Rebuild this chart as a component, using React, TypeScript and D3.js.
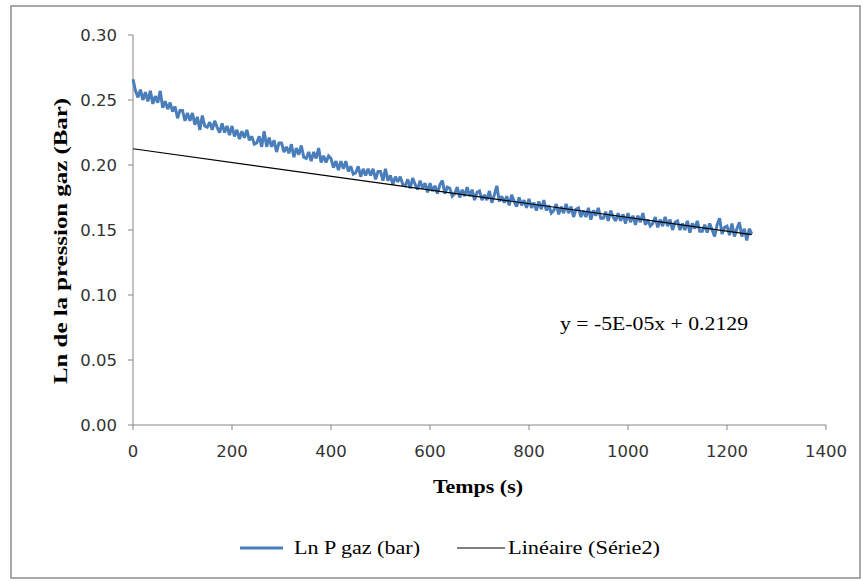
import React from "react";
import * as d3 from "d3";

const timeStep = 5; // seconds between samples
const lnP: number[] = [
  0.266, 0.257, 0.252, 0.258, 0.250, 0.256, 0.249, 0.257, 0.247, 0.253,
  0.248, 0.257, 0.244, 0.249, 0.243, 0.248, 0.241, 0.245, 0.236, 0.242,
  0.242, 0.234, 0.240, 0.234, 0.240, 0.231, 0.237, 0.227, 0.238, 0.230,
  0.229, 0.233, 0.227, 0.234, 0.229, 0.225, 0.232, 0.225, 0.230, 0.223,
  0.230, 0.222, 0.227, 0.220, 0.226, 0.221, 0.227, 0.219, 0.222, 0.216,
  0.217, 0.222, 0.214, 0.226, 0.214, 0.221, 0.214, 0.219, 0.210, 0.217,
  0.217, 0.210, 0.214, 0.209, 0.216, 0.206, 0.213, 0.208, 0.215, 0.206,
  0.205, 0.210, 0.203, 0.210, 0.205, 0.213, 0.202, 0.207, 0.202, 0.207,
  0.205, 0.198, 0.203, 0.196, 0.203, 0.197, 0.203, 0.195, 0.199, 0.193,
  0.194, 0.199, 0.191, 0.197, 0.192, 0.197, 0.192, 0.197, 0.189, 0.195,
  0.195, 0.188, 0.197, 0.188, 0.192, 0.185, 0.191, 0.187, 0.191, 0.185,
  0.184, 0.189, 0.182, 0.190, 0.185, 0.181, 0.188, 0.182, 0.186, 0.179,
  0.186, 0.180, 0.184, 0.178, 0.185, 0.188, 0.178, 0.183, 0.182, 0.176,
  0.178, 0.183, 0.175, 0.181, 0.176, 0.183, 0.176, 0.181, 0.173, 0.179,
  0.180, 0.173, 0.177, 0.173, 0.180, 0.171, 0.177, 0.184, 0.172, 0.176,
  0.171, 0.176, 0.169, 0.177, 0.172, 0.168, 0.175, 0.169, 0.173, 0.167,
  0.174, 0.167, 0.171, 0.165, 0.172, 0.166, 0.173, 0.165, 0.169, 0.163,
  0.165, 0.170, 0.162, 0.168, 0.163, 0.170, 0.163, 0.168, 0.160, 0.166,
  0.167, 0.160, 0.165, 0.160, 0.167, 0.158, 0.165, 0.161, 0.167, 0.159,
  0.159, 0.164, 0.157, 0.165, 0.160, 0.157, 0.163, 0.157, 0.162, 0.155,
  0.163, 0.156, 0.161, 0.154, 0.161, 0.156, 0.163, 0.154, 0.158, 0.153,
  0.155, 0.160, 0.152, 0.158, 0.153, 0.160, 0.153, 0.158, 0.150, 0.156,
  0.157, 0.150, 0.155, 0.150, 0.157, 0.148, 0.155, 0.151, 0.157, 0.149,
  0.149, 0.154, 0.148, 0.155, 0.150, 0.145, 0.154, 0.159, 0.147, 0.152,
  0.153, 0.146, 0.155, 0.145, 0.151, 0.156, 0.145, 0.151, 0.142, 0.151,
  0.147,
];

const trendX = [0, 1250];
const trendY = [0.2125, 0.1465];

const xTicks = [0, 200, 400, 600, 800, 1000, 1200, 1400];
const yTicks = [0, 0.05, 0.1, 0.15, 0.2, 0.25, 0.3];

const seriesName = "Ln P gaz (bar)";
const trendName = "Linéaire (Série2)";
const equation = "y = -5E-05x + 0.2129";
const xTitle = "Temps (s)";
const yTitle = "Ln de la pression gaz (Bar)";

export default function App() {
  const W = 863, H = 581;
  const x = d3.scaleLinear().domain([0, 1400]).range([133, 826]);
  const y = d3.scaleLinear().domain([0, 0.3]).range([425, 35]);
  const data = lnP.map((v, i) => [i * timeStep, v] as [number, number]);
  const line = d3.line<[number, number]>().x(d => x(d[0])).y(d => y(d[1]));
  const trend = trendX.map((t, i) => [t, trendY[i]] as [number, number]);
  const serif = "'Liberation Serif', 'Times New Roman', serif";
  const sans = "'DejaVu Sans', sans-serif";
  const axisColor = "#868686";
  const blue = "#4a7ebb";

  return (
    <svg width={W} height={H} style={{ position: "absolute", left: 0, top: 0, background: "#fff" }}>
      <rect x={11} y={6} width={849} height={572} fill="#fff" stroke="#8c8c8c" strokeWidth={1.5} />
      {/* axes */}
      <line x1={x(0)} x2={x(0)} y1={y(0.3)} y2={y(0)} stroke={axisColor} strokeWidth={1} />
      <line x1={x(0)} x2={x(1400)} y1={y(0)} y2={y(0)} stroke={axisColor} strokeWidth={1} />
      {yTicks.map(t => (
        <g key={"y" + t}>
          <line x1={x(0) - 5} x2={x(0)} y1={y(t)} y2={y(t)} stroke={axisColor} />
          <text x={117} y={y(t)} dy="0.36em" textAnchor="end" fontFamily={sans} fontSize={16.5} fill="#333">
            {t.toFixed(2)}
          </text>
        </g>
      ))}
      {xTicks.map(t => (
        <g key={"x" + t}>
          <line x1={x(t)} x2={x(t)} y1={y(0)} y2={y(0) + 5} stroke={axisColor} />
          <text x={x(t)} y={451} dy="0.36em" textAnchor="middle" fontFamily={sans} fontSize={16.5} fill="#333">
            {t}
          </text>
        </g>
      ))}
      {/* data */}
      <path d={line(data) || ""} fill="none" stroke={blue} strokeWidth={3} strokeLinejoin="miter" strokeMiterlimit={2} />
      <path d={line(trend) || ""} fill="none" stroke="#000" strokeWidth={1.2} />
      {/* equation */}
      <text x={560} y={330} fontFamily={serif} fontSize={18} fill="#000" textLength={188} lengthAdjust="spacingAndGlyphs">
        {equation}
      </text>
      {/* axis titles */}
      <text x={478} y={493} textAnchor="middle" fontFamily={serif} fontWeight="bold" fontSize={18} fill="#000" textLength={90} lengthAdjust="spacingAndGlyphs">
        {xTitle}
      </text>
      <text transform="translate(67,241) rotate(-90)" textAnchor="middle" fontFamily={serif} fontWeight="bold" fontSize={19} fill="#000" textLength={286} lengthAdjust="spacingAndGlyphs">
        {yTitle}
      </text>
      {/* legend */}
      <line x1={240} x2={283} y1={548} y2={548} stroke={blue} strokeWidth={3} />
      <text x={294} y={554} fontFamily={serif} fontSize={18} fill="#000" textLength={126} lengthAdjust="spacingAndGlyphs">
        {seriesName}
      </text>
      <line x1={457} x2={505} y1={548} y2={548} stroke="#000" strokeWidth={1.2} />
      <text x={508} y={554} fontFamily={serif} fontSize={18} fill="#000" textLength={152} lengthAdjust="spacingAndGlyphs">
        {trendName}
      </text>
    </svg>
  );
}
